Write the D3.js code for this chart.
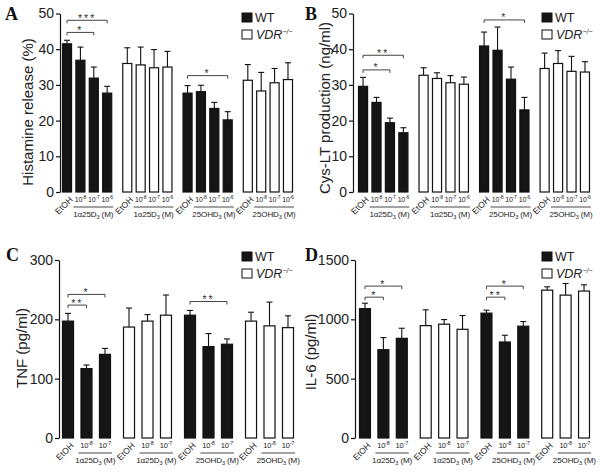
<!DOCTYPE html>
<html><head><meta charset="utf-8">
<script src="https://cdn.jsdelivr.net/npm/d3@7"></script>
<style>
body{margin:0;background:#fff;}
svg{display:block;font-family:"Liberation Sans",Arial,Helvetica,sans-serif;}
</style></head><body>
<svg id="c" width="603" height="476"></svg>
<script>
// ---------- data ----------
const groupLabels = ["1α25D", "1α25D", "25OHD", "25OHD"]; // followed by subscript 3 and " (M)"
const genotypes = ["WT", "VDR", "WT", "VDR"];
const dosesAB = ["EtOH", "-8", "-7", "-6"];
const dosesCD = ["EtOH", "-8", "-7"];

const histamine    = [41.5, 36.9, 31.9, 27.7, 36.0, 35.6, 34.8, 35.0, 27.7, 28.1, 23.4, 20.2, 31.3, 28.3, 30.6, 31.5];
const histamineErr = [1.0, 3.7, 3.1, 1.9, 4.4, 5.0, 5.1, 4.4, 2.1, 1.8, 1.7, 2.3, 4.4, 5.2, 4.0, 4.7];
const histamineSig = [[0, 3, 48.1, "***"], [0, 2, 44.7, "*"], [8, 11, 32.6, "*"]];
const histamineTicks = [0, 10, 20, 30, 40, 50];

const cysLT    = [29.6, 25.1, 19.4, 16.6, 32.7, 31.8, 30.6, 30.2, 40.9, 39.7, 31.6, 23.0, 34.6, 36.0, 33.8, 33.6];
const cysLTErr = [2.5, 1.4, 1.3, 1.4, 2.1, 1.6, 2.0, 2.0, 3.9, 6.5, 3.4, 3.5, 4.3, 3.6, 4.2, 2.9];
const cysLTSig = [[0, 3, 38.3, "**"], [0, 2, 34.2, "*"], [8, 11, 48.2, "*"]];
const cysLTTicks = [0, 10, 20, 30, 40, 50];

const tnf    = [197, 117, 141, 187, 197, 207, 207, 154, 158, 197, 189, 186];
const tnfErr = [13, 6, 10, 32, 11, 34, 8, 22, 9, 15, 40, 20];
const tnfSig = [[0, 2, 242, "*"], [0, 1, 224, "**"], [6, 8, 230, "**"]];
const tnfTicks = [0, 100, 200, 300];

const il6    = [1090, 744, 840, 947, 959, 916, 1052, 809, 942, 1246, 1204, 1238];
const il6Err = [46, 102, 85, 133, 39, 116, 25, 57, 39, 28, 98, 53];
const il6Sig = [[0, 2, 1280, "*"], [0, 1, 1187, "*"], [6, 8, 1280, "*"], [6, 7, 1187, "**"]];
const il6Ticks = [0, 500, 1000, 1500];

// ---------- layout ----------
const svg = d3.select("#c");

const panels = [
  {letter: "A", lx: 5, ly: 20, label: "Histamine release (%)", labX: 33, labY: 112,
   values: histamine, errs: histamineErr, sig: histamineSig, ticks: histamineTicks, doses: dosesAB,
   axisX: 60, xr: [62, 293], yr: [192, 13.5], ymax: 50, gp: 0.167, ip: 0.25, legX: 242, legY: 13, fs: 7},
  {letter: "B", lx: 305, ly: 20, label: "Cys-LT production (ng/ml)", labX: 330, labY: 108,
   values: cysLT, errs: cysLTErr, sig: cysLTSig, ticks: cysLTTicks, doses: dosesAB,
   axisX: 353, xr: [358, 590], yr: [192, 13.5], ymax: 50, gp: 0.167, ip: 0.25, legX: 542, legY: 13, fs: 7},
  {letter: "C", lx: 6, ly: 261, label: "TNF (pg/ml)", labX: 27, labY: 348,
   values: tnf, errs: tnfErr, sig: tnfSig, ticks: tnfTicks, doses: dosesCD,
   axisX: 59, xr: [62, 294], yr: [438, 260], ymax: 300, gp: 0.197, ip: 0.35, legX: 242, legY: 252, fs: 7.5},
  {letter: "D", lx: 305, ly: 261, label: "IL-6 (pg/ml)", labX: 315.5, labY: 352,
   values: il6, errs: il6Err, sig: il6Sig, ticks: il6Ticks, doses: dosesCD,
   axisX: 355, xr: [359, 590], yr: [438, 260], ymax: 1500, gp: 0.197, ip: 0.35, legX: 542, legY: 252, fs: 7.5}
];

panels.forEach(p => {
  const g = svg.append("g");
  const nd = p.doses.length;
  const gx = d3.scaleBand().domain(d3.range(4)).range(p.xr).paddingInner(p.gp).paddingOuter(0);
  const ix = d3.scaleBand().domain(d3.range(nd)).range([0, gx.bandwidth()]).paddingInner(p.ip).paddingOuter(0);
  const y = d3.scaleLinear().domain([0, p.ymax]).range(p.yr);
  const bx = i => gx(Math.floor(i / nd)) + ix(i % nd);
  const bc = i => bx(i) + ix.bandwidth() / 2;
  const base = y(0);

  // panel letter
  g.append("text").attr("x", p.lx).attr("y", p.ly)
    .attr("font-family", "'Liberation Serif','Times New Roman',serif").attr("font-weight", "bold")
    .attr("font-size", 18).attr("fill", "#111").text(p.letter);

  // y axis
  const ax = g.append("g").attr("transform", `translate(${p.axisX},0)`)
    .call(d3.axisLeft(y).tickValues(p.ticks).tickSize(4).tickSizeOuter(0).tickPadding(2).tickFormat(d3.format("d")));
  ax.select(".domain").attr("stroke", "#111").attr("stroke-width", 1.2);
  ax.selectAll(".tick line").attr("stroke", "#111").attr("stroke-width", 1.2);
  ax.selectAll(".tick text").attr("font-size", 14).attr("fill", "#222")
    .attr("font-family", "'Liberation Sans',Arial,sans-serif");

  // y label (labX = baseline position after rotation)
  g.append("text").attr("transform", `translate(${p.labX},${p.labY}) rotate(-90)`)
    .attr("text-anchor", "middle").attr("font-size", 15).attr("fill", "#222")
    .text(p.label);

  const idx = d3.range(p.values.length);

  // error bars (upper only)
  const eb = g.append("g").attr("stroke", "#111").attr("stroke-width", 1.1);
  idx.forEach(i => {
    const top = y(p.values[i] + p.errs[i]);
    eb.append("line").attr("x1", bc(i)).attr("x2", bc(i)).attr("y1", y(p.values[i])).attr("y2", top);
    eb.append("line").attr("x1", bc(i) - 3).attr("x2", bc(i) + 3).attr("y1", top).attr("y2", top);
  });

  // bars
  g.append("g").selectAll("rect").data(idx).join("rect")
    .attr("x", i => bx(i) + 0.5)
    .attr("width", ix.bandwidth() - 1)
    .attr("y", i => y(p.values[i]))
    .attr("height", i => base - y(p.values[i]))
    .attr("fill", i => genotypes[Math.floor(i / nd)] === "WT" ? "#151515" : "#fff")
    .attr("stroke", "#111").attr("stroke-width", 1.2);

  // significance brackets
  p.sig.forEach(([a, b, v, lab]) => {
    const yy = y(v), x1 = bc(a), x2 = bc(b);
    g.append("path").attr("d", `M${x1},${yy + 3}V${yy}H${x2}V${yy + 3}`)
      .attr("fill", "none").attr("stroke", "#444").attr("stroke-width", 1);
    g.append("text").attr("x", (x1 + x2) / 2).attr("y", yy + 1.5).attr("text-anchor", "middle")
      .attr("font-size", 10.5).attr("letter-spacing", 2).attr("fill", "#333").text(lab);
  });

  // x labels
  idx.forEach(i => {
    const d = i % nd;
    if (d === 0) {
      g.append("text").attr("transform", `translate(${bc(i) + 2},${base + 4}) rotate(-45)`)
        .attr("text-anchor", "end").attr("dy", "0.7em").attr("font-size", 8.5).attr("fill", "#222").text("EtOH");
    } else {
      const t = g.append("text").attr("x", bc(i)).attr("y", base + 9.5).attr("text-anchor", "middle")
        .attr("font-size", p.fs).attr("letter-spacing", -0.2).attr("fill", "#222");
      t.append("tspan").text("10");
      t.append("tspan").attr("font-size", p.fs - 2).attr("dy", -2.5).text(p.doses[d]);
    }
  });

  // group underline and label
  d3.range(4).forEach(k => {
    const xs = bx(k * nd + 1) - 2, xe = bx(k * nd + nd - 1) + ix.bandwidth() + 1;
    g.append("line").attr("x1", xs).attr("x2", xe).attr("y1", base + 15).attr("y2", base + 15)
      .attr("stroke", "#333").attr("stroke-width", 0.9);
    const t = g.append("text").attr("x", (xs + xe) / 2).attr("y", base + 25).attr("text-anchor", "middle")
      .attr("font-size", 8).attr("letter-spacing", -0.1).attr("fill", "#222");
    t.append("tspan").text(groupLabels[k]);
    t.append("tspan").attr("font-size", 5.5).attr("dy", 1.5).text("3");
    t.append("tspan").attr("dy", -1.5).text(" (M)");
  });

  // legend
  const lg = g.append("g");
  lg.append("rect").attr("x", p.legX).attr("y", p.legY).attr("width", 10).attr("height", 9)
    .attr("fill", "#151515").attr("stroke", "#111");
  lg.append("text").attr("x", p.legX + 13).attr("y", p.legY + 9).attr("font-size", 12.5).attr("fill", "#222").text("WT");
  lg.append("rect").attr("x", p.legX).attr("y", p.legY + 17).attr("width", 10).attr("height", 9)
    .attr("fill", "#fff").attr("stroke", "#111");
  const vt = lg.append("text").attr("x", p.legX + 14).attr("y", p.legY + 25.5).attr("font-size", 12.5)
    .attr("fill", "#222").attr("font-style", "italic");
  vt.append("tspan").text("VDR");
  vt.append("tspan").attr("font-size", 7).attr("dy", -5).text("−/−");
});
</script>
</body></html>
